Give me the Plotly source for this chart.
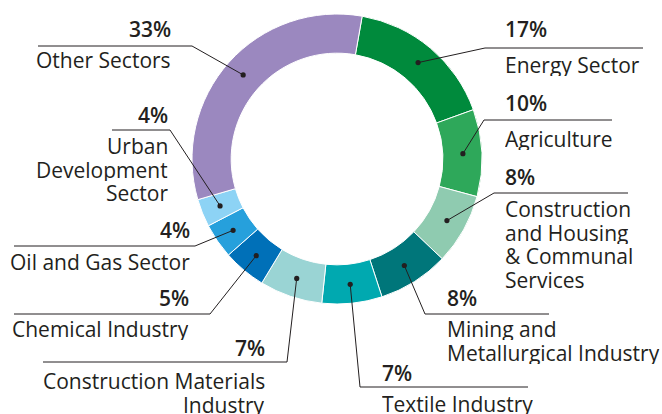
import math
import plotly.graph_objects as go

# ---- data ----
sectors = ["Energy Sector", "Agriculture", "Construction and Housing & Communal Services",
           "Mining and Metallurgical Industry", "Textile Industry", "Construction Materials Industry",
           "Chemical Industry", "Oil and Gas Sector", "Urban Development Sector", "Other Sectors"]
shares = [16.7, 9.7, 7.9, 7.9, 6.7, 7.0, 4.8, 3.9, 3.1, 32.3]
pct_labels = ["17%", "10%", "8%", "8%", "7%", "7%", "5%", "4%", "4%", "33%"]
name_lines = [["Energy Sector"], ["Agriculture"],
              ["Construction", "and Housing", "& Communal", "Services"],
              ["Mining and", "Metallurgical Industry"], ["Textile Industry"],
              ["Construction Materials", "Industry"], ["Chemical Industry"],
              ["Oil and Gas Sector"], ["Urban", "Development", "Sector"], ["Other Sectors"]]
colors = ["#008a3c", "#2ea85a", "#8fcbb0", "#00767a", "#00a9b0",
          "#9ad4d4", "#0070b8", "#26a0dc", "#8dd3f5", "#9b88bf"]

# ---- layout geometry (pixels) ----
W, H = 662, 414
CX, CY, R_OUT = 337, 159, 145
HOLE = 0.73
ROT = 10
R_DOT = 126
FONT = "Open Sans"
FS = 21
LINE_H = 23.7
TXT = "#231f20"

# leader: (elbow_x, elbow_y, end_x, align, text_x, pct_y, first_name_line_y)
leaders = [
    (485, 48, 643, "left", 503, 29, 65),
    (484, 120, 612, "left", 503, 103, 139),
    (494, 193, 628, "left", 503, 177, 209),
    (425, 314, 549, "left", 445, 298, 329),
    (360, 387, 528, "left", 380, 373, 404),
    (287, 362, 43, "right", 267, 348, 381),
    (210, 314, 14, "right", 191, 298, 329),
    (195, 246, 14, "right", 192, 230, 262),
    (170, 130, 112, "right", 170, 115, 146),
    (192, 46, 38, "right", 173, 29, 60),
]

fig = go.Figure()
fig.add_trace(go.Pie(
    labels=sectors, values=shares, sort=False, direction="clockwise", rotation=ROT,
    hole=HOLE, marker=dict(colors=colors, line=dict(color="white", width=1)),
    textinfo="none", hoverinfo="label+percent", showlegend=False,
    domain=dict(x=[(CX - R_OUT) / W, (CX + R_OUT) / W],
                y=[1 - (CY + R_OUT) / H, 1 - (CY - R_OUT) / H]),
))

total = sum(shares)
cum = 0
dots_x, dots_y = [], []
shapes, annotations = [], []
for i, v in enumerate(shares):
    theta = math.radians(ROT + 360 * (cum + v / 2) / total)
    cum += v
    dx = CX + R_DOT * math.sin(theta)
    dy = CY - R_DOT * math.cos(theta)
    dots_x.append(dx)
    dots_y.append(dy)
    ex, ey, endx, align, tx, py, ny = leaders[i]
    shapes.append(dict(type="path", xref="x", yref="y", layer="above",
                       path=f"M {dx:.1f},{dy:.1f} L {ex},{ey} L {endx},{ey}",
                       line=dict(color="#231f20", width=1)))
    shapes.append(dict(type="circle", xref="x", yref="y", layer="above",
                       x0=dx - 2.6, x1=dx + 2.6, y0=dy - 2.6, y1=dy + 2.6,
                       fillcolor="#231f20", line=dict(width=0)))
    annotations.append(dict(x=tx, y=py, xref="x", yref="y", text=pct_labels[i],
                            showarrow=False, xanchor=align, yanchor="middle",
                            height=22, valign="middle",
                            font=dict(family=FONT, size=FS, color=TXT, weight=600)))
    for k, line in enumerate(name_lines[i]):
        annotations.append(dict(x=tx, y=ny + k * LINE_H, xref="x", yref="y", text=line,
                                showarrow=False, xanchor=align, yanchor="middle",
                                height=22, valign="middle",
                                font=dict(family=FONT, size=FS, color=TXT)))

fig.add_trace(go.Scatter(x=dots_x, y=dots_y, mode="markers", marker=dict(size=1, opacity=0),
                         hoverinfo="skip", showlegend=False))

fig.update_layout(
    width=W, height=H, margin=dict(l=0, r=0, t=0, b=0),
    paper_bgcolor="white", plot_bgcolor="rgba(0,0,0,0)",
    xaxis=dict(range=[0, W], visible=False, domain=[0, 1], fixedrange=True),
    yaxis=dict(range=[H, 0], visible=False, domain=[0, 1], fixedrange=True),
    shapes=shapes, annotations=annotations, showlegend=False,
)
fig.write_html("out.html", config={"displayModeBar": False},
               post_script="document.body.style.margin='0px';document.body.style.overflow='hidden';")
